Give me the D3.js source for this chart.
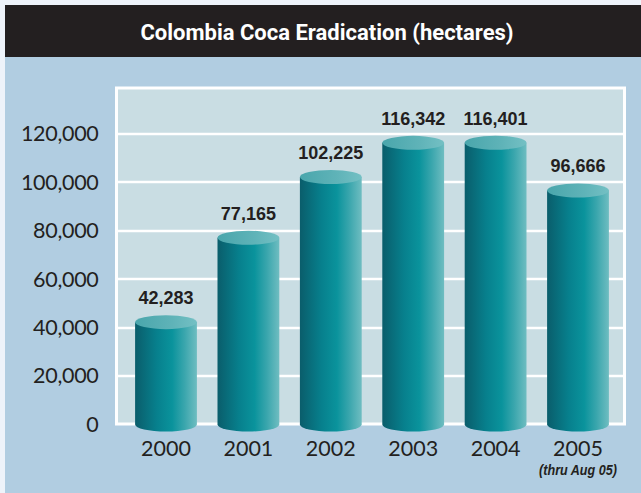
<!DOCTYPE html>
<html><head><meta charset="utf-8">
<script src="https://cdn.jsdelivr.net/npm/d3@7/dist/d3.min.js"></script>
<style>
html,body{margin:0;padding:0;background:#eef3fa;}
svg{display:block;}
</style></head>
<body>
<svg id="chart" width="641" height="493"></svg>
<script>
const years = ["2000","2001","2002","2003","2004","2005"];
const hectares = [42283, 77165, 102225, 116342, 116401, 96666];
const yTicks = [0, 20000, 40000, 60000, 80000, 100000, 120000];
const title = "Colombia Coca Eradication (hectares)";
const footnote = "(thru Aug 05)";

const svg = d3.select("#chart");
const defs = svg.append("defs");

const bodyGrad = defs.append("linearGradient").attr("id","body").attr("x1","0").attr("x2","1").attr("y1","0").attr("y2","0");
[[0,"#0a5d6b"],[0.35,"#07808d"],[0.6,"#0a939c"],[0.8,"#3aa6ad"],[1,"#6fbdc1"]].forEach(([o,c])=>bodyGrad.append("stop").attr("offset",o).attr("stop-color",c));
const capGrad = defs.append("linearGradient").attr("id","cap").attr("x1","0").attr("x2","1").attr("y1","0").attr("y2","0");
[[0,"#4aa6ac"],[0.6,"#5fb3b8"],[1,"#74c0c4"]].forEach(([o,c])=>capGrad.append("stop").attr("offset",o).attr("stop-color",c));

// card background
svg.append("rect").attr("x",5).attr("y",5).attr("width",636).attr("height",488).attr("fill","#b1cde1");
svg.append("rect").attr("x",5).attr("y",5).attr("width",636).attr("height",52).attr("fill","#231f20");
svg.append("text").attr("x",327).attr("y",40).attr("text-anchor","middle")
  .attr("fill","#ffffff").attr("font-family","'Liberation Sans Narrow','Roboto',sans-serif")
  .attr("font-weight","bold").attr("font-size",22).text(title);

const plot = {x0:116.5, x1:624.5, y0:88, y1:424};
const x = d3.scaleBand().domain(years).range([124.8, 619.2]).paddingInner(0.25).paddingOuter(0.125);
const y = d3.scaleLinear().domain([0,120000]).range([424.5, 134]);

// plot panel
svg.append("rect").attr("x",plot.x0).attr("y",plot.y0).attr("width",plot.x1-plot.x0).attr("height",plot.y1-plot.y0)
  .attr("fill","#c9dde3").attr("stroke","#ffffff").attr("stroke-width",3);

// gridlines
svg.append("g").selectAll("line").data(yTicks.filter(d=>d>0)).join("line")
  .attr("x1",plot.x0).attr("x2",plot.x1).attr("y1",d=>Math.round(y(d))).attr("y2",d=>Math.round(y(d)))
  .attr("stroke","#ffffff").attr("stroke-width",2.5);

// y axis
const yAxis = svg.append("g").attr("transform",`translate(${plot.x0-1},0)`)
  .call(d3.axisLeft(y).tickValues(yTicks).tickFormat(d3.format(",")).tickSize(0).tickPadding(17));
yAxis.select(".domain").remove();
yAxis.selectAll("text").attr("font-family","Lato, sans-serif").attr("font-size",21.5).attr("fill","#231f20").attr("letter-spacing","-0.3");

// x axis
const xAxis = svg.append("g").attr("transform",`translate(0,${y(0)})`)
  .call(d3.axisBottom(x).tickSize(0).tickPadding(16.5));
xAxis.select(".domain").remove();
xAxis.selectAll("text").attr("font-family","Lato, sans-serif").attr("font-size",21.5).attr("fill","#231f20");

const fx = x("2005")+x.bandwidth()/2;
svg.append("g").attr("transform",`translate(${fx},475) scale(0.84,1)`)
  .append("text").attr("x",0).attr("y",0).attr("text-anchor","middle")
  .attr("font-family","'Liberation Sans Narrow',sans-serif").attr("font-style","italic").attr("font-weight","bold")
  .attr("font-size",15).attr("fill","#231f20").text(footnote);

// cylinders
const ry = 7;
const bars = svg.append("g").selectAll("g").data(years.map((yr,i)=>({yr, v:hectares[i]}))).join("g");
bars.append("path").attr("fill","url(#body)").attr("d",d=>{
  const x0 = x(d.yr), x1 = x0 + x.bandwidth(), rx = x.bandwidth()/2;
  const yt = y(d.v), yb = y(0);
  return `M${x0},${yt} L${x0},${yb} A${rx},${ry} 0 0 0 ${x1},${yb} L${x1},${yt} Z`;
});
bars.append("ellipse").attr("fill","url(#cap)")
  .attr("cx",d=>x(d.yr)+x.bandwidth()/2).attr("cy",d=>y(d.v))
  .attr("rx",x.bandwidth()/2).attr("ry",ry);
bars.append("text").attr("x",d=>x(d.yr)+x.bandwidth()/2).attr("y",d=>y(d.v)-ry-11)
  .attr("text-anchor","middle").attr("font-family","'Liberation Sans Narrow',sans-serif")
  .attr("font-weight","bold").attr("font-size",18).attr("fill","#231f20")
  .text(d=>d3.format(",")(d.v));
</script>
</body></html>
